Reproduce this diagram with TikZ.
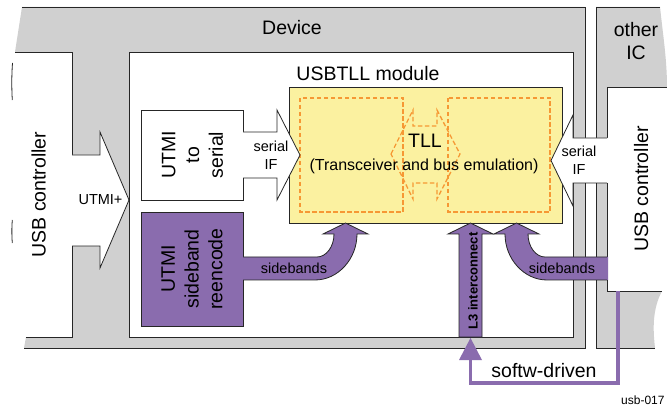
\documentclass[tikz,border=0pt]{standalone}
\usepackage{fontspec}
\setmainfont{Liberation Sans}
\usetikzlibrary{calc}
\definecolor{devgray}{RGB}{208,208,208}
\definecolor{tipurple}{RGB}{138,108,174}
\definecolor{tllyellow}{RGB}{251,241,160}
\definecolor{dashorange}{RGB}{246,152,52}
\definecolor{edgecol}{RGB}{38,38,38}
\begin{document}
\begin{tikzpicture}[x=1pt,y=-1pt,line join=miter,
  outline/.style={draw=edgecol,line width=0.8pt},
  boxnode/.style={outline,rectangle,inner sep=0pt,outer sep=0pt,anchor=north west},
  tlldash/.style={draw=dashorange,line width=1.3pt,dash pattern=on 4.5pt off 2.5pt},
  swline/.style={draw=tipurple,line width=3.5pt},
  bigtxt/.style={font=\fontsize{19.5}{23.75}\selectfont,inner sep=0pt,align=center},
  smalltxt/.style={font=\fontsize{14.5}{18}\selectfont,inner sep=0pt,align=center}]
\useasboundingbox (0,0) rectangle (667,406);
% Device area
\fill[devgray] (22,7) -- (585,7) -- (585,348) -- (24,348) -- (26,337) -- (15,52) -- cycle;
\draw[outline] (22,7) -- (585,7) -- (585,348) -- (24,348);
% other IC area
\fill[devgray] (596,7) -- (660,7) .. controls (663,35) and (667,60) .. (667,87) -- (667,291) -- (662,291) .. controls (652,310) and (653,330) .. (655,348) -- (596,348) -- cycle;
\draw[outline] (660,7) -- (596,7) -- (596,348) -- (655,348);
% left USB controller
\fill[white] (0,52) rectangle (72,337);
\draw[outline] (15,52) -- (72,52) -- (72,337) -- (26,337);
\draw[outline] (12.5,63) .. controls (11.6,75) and (11.6,88) .. (12.3,100);
\draw[outline] (12.3,220) .. controls (11.7,228) and (11.7,236) .. (12.3,243);
% right USB controller
\fill[white] (607,87) rectangle (667,291);
\draw[outline] (667,87) -- (607,87) -- (607,291) -- (662,291);
% USBTLL module
\node[boxnode,fill=white,minimum width=444pt,minimum height=285pt] (usbtll) at (129,52) {};
% UTMI to serial and sideband boxes
\node[boxnode,fill=white,minimum width=102pt,minimum height=90pt] (utmiser) at (141,110) {};
\node[boxnode,fill=tipurple,minimum width=102pt,minimum height=114pt] (utmisb) at (141,212) {};
% TLL
\node[boxnode,fill=tllyellow,minimum width=273pt,minimum height=136pt] (tll) at (289,87) {};
\draw[tlldash] (300,98) rectangle (403,212);
\draw[tlldash] (448,98) rectangle (550,212);
\draw[tlldash] (391,154) -- (413,110) -- (413,126) -- (437,126) -- (437,110) -- (460,154) -- (437,199) -- (437,183) -- (413,183) -- (413,199) -- cycle;
% UTMI+ arrow
\fill[white] (71,155) -- (100,155) -- (100,132) -- (129,200) -- (100,268) -- (100,246) -- (71,246) -- cycle;
\draw[outline] (72,155) -- (100,155) -- (100,132) -- (129,200) -- (100,268) -- (100,246) -- (72,246);
% serial IF left
\fill[white] (242,132) -- (277,132) -- (277,110) -- (300,155) -- (277,200) -- (277,178) -- (242,178) -- cycle;
\draw[outline] (243,132) -- (277,132) -- (277,110) -- (300,155) -- (277,200) -- (277,178) -- (243,178);
% serial IF right
\fill[white] (608,138) -- (573,138) -- (573,115) -- (551,160.5) -- (573,206) -- (573,183) -- (608,183) -- cycle;
\draw[outline] (607,138) -- (573,138) -- (573,115) -- (551,160.5) -- (573,206) -- (573,183) -- (607,183);
% sidebands left
\fill[tipurple] (242,257) -- (317,257) .. controls (326,257) and (334,247) .. (334,234) -- (323,234) -- (345.5,223) -- (368,234) -- (357,234) .. controls (357,259) and (338,280) .. (315,280) -- (242,280) -- cycle;
\draw[outline] (243,257) -- (317,257) .. controls (326,257) and (334,247) .. (334,234) -- (323,234) -- (345.5,223) -- (368,234) -- (357,234) .. controls (357,259) and (338,280) .. (315,280) -- (243,280);
% sidebands right
\fill[tipurple] (608,257) -- (545,257) .. controls (536,257) and (528,247) .. (528,234) -- (539,234) -- (516.5,223) -- (494,234) -- (505,234) .. controls (505,259) and (524,280) .. (547,280) -- (608,280) -- cycle;
\draw[outline] (607,257) -- (545,257) .. controls (536,257) and (528,247) .. (528,234) -- (539,234) -- (516.5,223) -- (494,234) -- (505,234) .. controls (505,259) and (524,280) .. (547,280) -- (607,280);
% L3 interconnect
\draw[outline,fill=tipurple] (459,337) -- (459,234) -- (448,234) -- (470.5,223) -- (493,234) -- (482,234) -- (482,337) -- cycle;
% softw-driven
\coordinate (swStart) at (618,291.5);
\coordinate (swTurn) at (470.5,383);
\coordinate (swHead) at (470.5,338);
\draw[swline] (swStart) |- (swTurn) -- ($(swHead)+(0,21)$);
\fill[tipurple] (swHead) -- ++(-11.5,22) -- ++(23,0) -- cycle;
% texts
\node[bigtxt,anchor=base] (devlbl) at (292,35) {Device};
\node[bigtxt,anchor=base] (usbtlllbl) at (368,81) {USBTLL module};
\node[bigtxt] (otherlbl) at (636,41) {other\\IC};
\node[bigtxt,rotate=90,anchor=base] (usbLlbl) at (45.5,194.5) {USB controller};
\node[bigtxt,rotate=90,anchor=base] (usbRlbl) at (648,189) {USB controller};
\node[bigtxt,rotate=90] (utmiserlbl) at (192.5,155) {UTMI\\to\\serial};
\node[bigtxt,rotate=90] (utmisblbl) at (192,269) {UTMI\\sideband\\reencode};
\node[smalltxt,anchor=base] (utmipl) at (100.5,205) {UTMI+};
\node[smalltxt] (serLlbl) at (271,155.7) {serial\\IF};
\node[smalltxt] (serRlbl) at (579,160.7) {serial\\IF};
\node[bigtxt,anchor=base] (tllname) at (425,148) {TLL};
\node[font=\fontsize{16}{19}\selectfont,inner sep=0pt,anchor=base] (tlldesc) at (424,171) {(Transceiver and bus emulation)};
\node[smalltxt,anchor=base] (sbLlbl) at (294,274) {sidebands};
\node[smalltxt,anchor=base] (sbRlbl) at (562,274) {sidebands};
\node[font=\fontsize{13}{15}\selectfont\bfseries,inner sep=0pt,rotate=90,anchor=base] (l3lbl) at (477.5,281) {L3 interconnect};
\node[bigtxt,anchor=base] (swlbl) at (544,377) {softw-driven};
\node[font=\fontsize{12}{14}\selectfont,inner sep=0pt,anchor=base west] (figid) at (621,404) {usb-017};
\end{tikzpicture}
\end{document}
